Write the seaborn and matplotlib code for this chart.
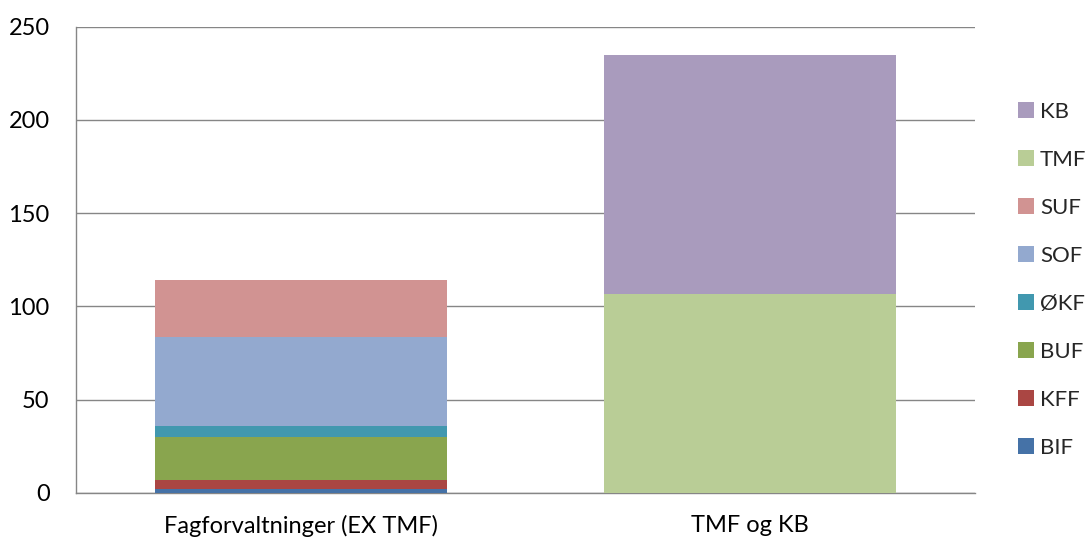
import numpy as np
import pandas as pd
import seaborn as sns
import matplotlib.pyplot as plt
from matplotlib.patches import Patch

# Data
categories = ['Fagforvaltninger (EX TMF)', 'TMF og KB']
series = ['BIF', 'KFF', 'BUF', 'ØKF', 'SOF', 'SUF', 'TMF', 'KB']
values_left = [2.1, 4.7, 23.4, 5.9, 47.6, 30.5, 0, 0]
values_right = [0, 0, 0, 0, 0, 0, 106.5, 128.3]
colors = ['#4572A7', '#AA4643', '#89A54E', '#4198AF', '#93A9CF', '#D19392', '#B9CD96', '#A99BBD']

sns.set_style('white')
plt.rcParams['font.family'] = ['Lato', 'DejaVu Sans']

fig = plt.figure(figsize=(10.89, 5.41), dpi=100)
ax = fig.add_axes([0.0698, 0.089, 0.8255, 0.862])

df = pd.DataFrame({'left': values_left, 'right': values_right}, index=series)
cum = df.cumsum()

# stacked bars: draw cumulative tops from the top series down
for s, c in reversed(list(zip(series, colors))):
    d = pd.DataFrame({'cat': categories, 'val': [cum.loc[s, 'left'], cum.loc[s, 'right']]})
    sns.barplot(data=d, x='cat', y='val', color=c, saturation=1, width=0.65, ax=ax,
                linewidth=0, edgecolor='none', zorder=3)

ax.set_ylim(0, 250)
ax.set_yticks(range(0, 251, 50))
ax.set_xlim(-0.5, 1.5)
ax.yaxis.grid(True, color='#868686', linewidth=1)
ax.set_axisbelow(True)
ax.set_xlabel('')
ax.set_ylabel('')
for side in ['top', 'right']:
    ax.spines[side].set_visible(False)
for side in ['left', 'bottom']:
    ax.spines[side].set_color('#868686')
    ax.spines[side].set_linewidth(1)
ax.tick_params(axis='both', length=0, labelsize=17, colors='black')
ax.tick_params(axis='y', pad=19)
ax.tick_params(axis='x', pad=16)

handles = [Patch(facecolor=c, edgecolor='none', label=s) for s, c in zip(series, colors)][::-1]
fig.legend(handles=handles, loc='center left', bbox_to_anchor=(0.9348, 0.4824), frameon=False,
           borderpad=0, borderaxespad=0, fontsize=16, handlelength=0.72, handleheight=0.72,
           handletextpad=0.27, labelspacing=1.26)

fig.savefig('out.png', dpi=100)
